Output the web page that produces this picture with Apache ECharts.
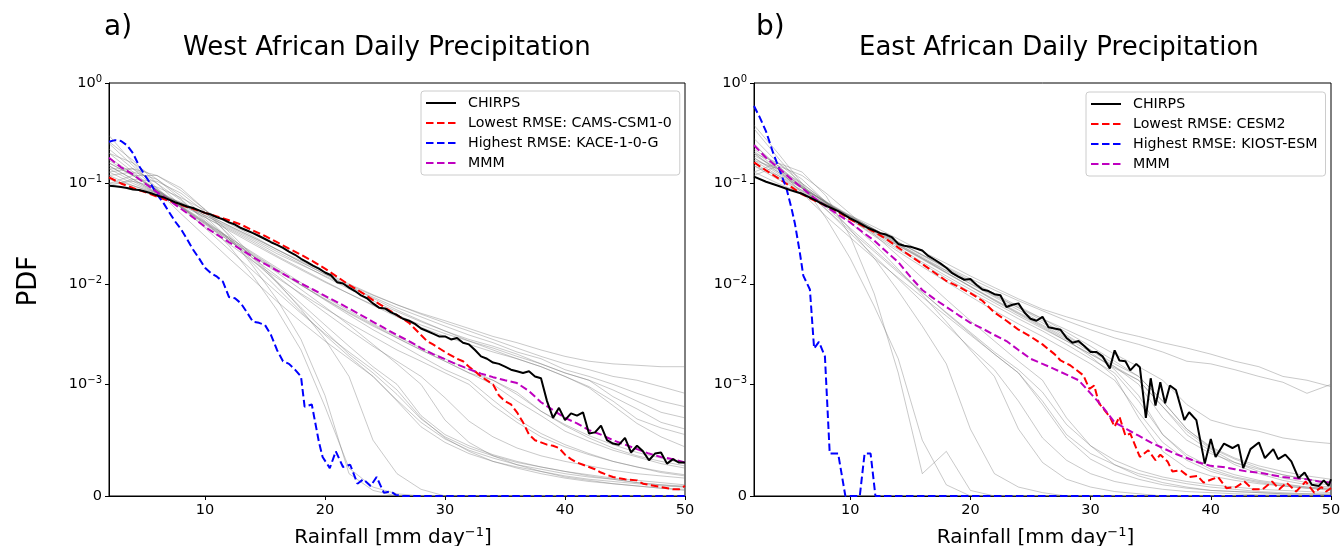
<!DOCTYPE html>
<html><head><meta charset="utf-8">
<script src="https://cdn.jsdelivr.net/npm/echarts@6/dist/echarts.min.js"></script>
<style>html,body{margin:0;padding:0;background:#fff}#c{width:1341px;height:546px}</style>
</head><body><div id="c"></div>
<script>
// ---------------- DATA ----------------
const xTicks = [10, 20, 30, 40, 50];
const yTickValues = [0, 1e-3, 1e-2, 1e-1, 1];
const yTickExponents = ['', '−3', '−2', '−1', '0'];
const panelTitles = ['West African Daily Precipitation', 'East African Daily Precipitation'];
const panelLetters = ['a)', 'b)'];
const westNames = ['CHIRPS', 'Lowest RMSE: CAMS-CSM1-0', 'Highest RMSE: KACE-1-0-G', 'MMM'];
const eastNames = ['CHIRPS', 'Lowest RMSE: CESM2', 'Highest RMSE: KIOST-ESM', 'MMM'];

// model grid (mm/day) for the gray ensemble members
const gx = [2,4,6,8,10,12,14,16,18,20,22,24,26,28,30,32,34,36,38,40,42,44,46,48,50];

const westChirps = [[2,0.095],[2.5,0.094],[3,0.092],[3.5,0.09],[4,0.087],[4.5,0.086],[5,0.083],[5.5,0.08],[6,0.076],[6.5,0.073],[7,0.069],[7.5,0.065],[8,0.062],[8.5,0.059],[9,0.057],[9.5,0.054],[10,0.051],[10.5,0.049],[11,0.046],[11.5,0.044],[12,0.041],[12.5,0.039],[13,0.036],[13.5,0.034],[14,0.032],[14.5,0.03],[15,0.028],[15.5,0.026],[16,0.0245],[16.5,0.0228],[17,0.021],[17.5,0.0195],[18,0.0178],[18.5,0.0165],[19,0.0152],[19.5,0.0142],[20,0.013],[20.5,0.0122],[21,0.0104],[21.5,0.0101],[22,0.0092],[22.5,0.0085],[23,0.0077],[23.5,0.0072],[24,0.0064],[24.5,0.0058],[25,0.0057],[25.5,0.0052],[26,0.0049],[26.5,0.0045],[27,0.0043],[27.5,0.004],[28,0.0036],[28.5,0.0034],[29,0.0032],[29.5,0.003],[30,0.003],[30.5,0.0028],[31,0.0029],[31.5,0.0026],[32,0.0025],[32.5,0.0022],[33,0.0019],[33.5,0.0018],[34,0.00165],[34.5,0.0016],[35,0.0015],[35.5,0.0014],[36,0.00135],[36.5,0.0013],[37,0.00135],[37.5,0.0012],[38,0.00115],[38.5,0.00085],[39,0.0007],[39.5,0.00079],[40,0.00068],[40.5,0.00074],[41,0.00072],[41.5,0.00075],[42,0.00056],[42.5,0.00057],[43,0.00063],[43.5,0.0005],[44,0.00047],[44.5,0.00046],[45,0.00052],[45.5,0.00039],[46,0.00045],[46.5,0.0004],[47,0.00032],[47.5,0.00038],[48,0.00039],[48.5,0.00029],[49,0.00033],[49.5,0.0003],[50,0.0003]];
const westLowest = [[2,0.115],[3,0.1],[4,0.09],[5,0.082],[6,0.074],[7,0.067],[8,0.061],[9,0.056],[10,0.051],[11,0.047],[12,0.043],[13,0.039],[14,0.034],[15,0.03],[16,0.026],[17,0.0225],[18,0.0195],[19,0.0168],[20,0.0142],[21,0.0118],[22,0.0098],[23,0.0083],[24,0.0069],[25,0.0058],[26,0.0049],[27,0.0041],[28,0.0031],[28.5,0.0027],[29,0.0025],[30,0.0021],[31,0.0018],[31.5,0.0017],[32,0.0015],[32.5,0.00135],[33,0.0012],[34,0.001],[34.5,0.0009],[35,0.00085],[35.5,0.00082],[36,0.00075],[36.5,0.00066],[37,0.00055],[37.5,0.0005],[38,0.00048],[38.5,0.00046],[39,0.00045],[39.5,0.00043],[40,0.00037],[40.5,0.00033],[41,0.0003],[41.5,0.00028],[42,0.00026],[42.5,0.00024],[43,0.00021],[43.5,0.00019],[44,0.00017],[45,0.00015],[46,0.00014],[46.5,0.00011],[47,0.0001],[48,0.00008],[49,0.00006],[49.5,0.00006],[50,0.00009]];
const westHighest = [[2,0.26],[2.5,0.27],[3,0.265],[3.5,0.24],[4,0.2],[4.5,0.15],[5,0.12],[5.5,0.098],[6,0.078],[6.5,0.065],[7,0.052],[7.5,0.042],[8,0.035],[8.5,0.028],[9,0.022],[9.5,0.018],[10,0.0145],[10.5,0.0128],[11,0.0118],[11.5,0.0105],[12,0.0074],[12.5,0.0072],[13,0.0064],[13.5,0.0052],[14,0.0042],[14.5,0.0041],[15,0.0039],[15.5,0.0031],[16,0.0022],[16.5,0.0017],[17,0.0016],[17.5,0.0014],[18,0.0012],[18.3,0.0008],[18.9,0.00082],[19.5,0.00048],[19.8,0.00035],[20.4,0.00025],[20.9,0.0004],[21.5,0.00026],[22.1,0.00028],[22.7,0.00011],[23.2,0.00015],[23.8,0.00009],[24.3,0.00017],[24.9,0.00003],[25.5,0.00004],[25.9,0.00001],[26.5,0],[50,0]];
const westMMM = [[2,0.18],[3,0.145],[4,0.123],[5,0.1],[6,0.082],[7,0.068],[8,0.056],[9,0.046],[10,0.037],[11,0.031],[12,0.026],[13,0.022],[14,0.0185],[15,0.0158],[16,0.0136],[17,0.0117],[18,0.0101],[19,0.0088],[20,0.0076],[21,0.0066],[22,0.0057],[23,0.0049],[24,0.0042],[25,0.0036],[26,0.0031],[27,0.0027],[28,0.0023],[29,0.002],[30,0.00178],[31,0.00158],[32,0.00142],[33,0.00128],[34,0.00118],[35,0.0011],[36,0.00103],[37,0.00094],[38,0.00084],[39,0.00077],[40,0.0007],[41,0.00065],[42,0.00059],[43,0.00055],[44,0.0005],[45,0.00046],[46,0.00042],[47,0.00038],[48,0.00035],[49,0.00033],[50,0.0003]];
const westModels = [
 [0.10,0.105,0.092,0.072,0.054,0.040,0.030,0.022,0.0165,0.0125,0.0097,0.0077,0.0062,0.0051,0.0043,0.0036,0.0030,0.0026,0.0022,0.0019,0.0017,0.0016,0.00155,0.0015,0.0015],
 [0.13,0.10,0.080,0.065,0.050,0.038,0.029,0.022,0.017,0.013,0.0100,0.0078,0.0062,0.0050,0.0041,0.0034,0.0028,0.0023,0.0019,0.0016,0.0014,0.0012,0.0011,0.00098,0.00092],
 [0.15,0.11,0.082,0.063,0.048,0.036,0.027,0.020,0.0155,0.012,0.0094,0.0074,0.0058,0.0047,0.0038,0.0031,0.0026,0.0021,0.0018,0.0014,0.0012,0.0010,0.00092,0.00085,0.0008],
 [0.12,0.095,0.078,0.062,0.048,0.037,0.028,0.021,0.0158,0.0118,0.0089,0.0068,0.0053,0.0042,0.0034,0.0028,0.0024,0.0020,0.0016,0.0013,0.0011,0.00095,0.00085,0.00075,0.0007],
 [0.17,0.12,0.086,0.063,0.046,0.034,0.025,0.0185,0.0138,0.0104,0.0080,0.0062,0.0049,0.0039,0.0032,0.0027,0.0023,0.0019,0.0016,0.0013,0.0011,0.00089,0.00078,0.00066,0.0006],
 [0.14,0.105,0.080,0.061,0.046,0.035,0.026,0.019,0.0142,0.0106,0.0080,0.0061,0.0047,0.0037,0.0030,0.0025,0.0021,0.0018,0.0015,0.0012,0.00098,0.00085,0.00069,0.00061,0.00055],
 [0.11,0.095,0.080,0.064,0.050,0.038,0.029,0.022,0.0165,0.0125,0.0095,0.0072,0.0055,0.0043,0.0034,0.0027,0.0022,0.0018,0.0015,0.0012,0.00097,0.00081,0.00065,0.00053,0.00044],
 [0.20,0.13,0.085,0.058,0.040,0.028,0.0195,0.0138,0.0098,0.0071,0.0052,0.0039,0.0029,0.0022,0.0017,0.0013,0.0010,0.00085,0.00072,0.00058,0.00049,0.00041,0.00035,0.00029,0.00025],
 [0.18,0.125,0.085,0.059,0.041,0.029,0.0205,0.0145,0.0103,0.0074,0.0054,0.0040,0.0030,0.0023,0.0018,0.0014,0.0011,0.00093,0.00076,0.00063,0.00052,0.00043,0.00036,0.00031,0.00027],
 [0.25,0.15,0.090,0.057,0.037,0.025,0.0168,0.0115,0.0080,0.0057,0.0041,0.0030,0.0022,0.0017,0.0013,0.0010,0.00081,0.00066,0.00053,0.00044,0.00037,0.00031,0.00026,0.00022,0.00019],
 [0.16,0.12,0.086,0.060,0.042,0.029,0.020,0.014,0.0098,0.0069,0.0049,0.0035,0.0026,0.0019,0.0014,0.0011,0.00086,0.00069,0.00056,0.00046,0.00038,0.00031,0.00026,0.00021,0.00018],
 [0.22,0.14,0.088,0.058,0.039,0.027,0.019,0.0135,0.0097,0.0070,0.0051,0.0038,0.0029,0.0022,0.0017,0.0013,0.0011,0.00091,0.00076,0.00064,0.00054,0.00046,0.00039,0.00034,0.00029],
 [0.15,0.11,0.080,0.058,0.040,0.027,0.018,0.012,0.0078,0.0052,0.0035,0.0024,0.0017,0.0012,0.00088,0.00067,0.00053,0.00043,0.00036,0.00031,0.00027,0.00023,0.00020,0.00018,0.00016],
 [0.12,0.13,0.11,0.075,0.047,0.028,0.016,0.0092,0.0053,0.0031,0.0019,0.0012,0.00086,0.00066,0.00051,0.00041,0.00034,0.00028,0.00024,0.00020,0.00017,0.00015,0.00012,0.00010,0.00009],
 [0.095,0.11,0.105,0.080,0.052,0.031,0.018,0.0102,0.0058,0.0034,0.0020,0.0013,0.00091,0.00069,0.00053,0.00043,0.00036,0.00030,0.00026,0.00022,0.00019,0.00016,0.00014,0.00012,0.00010],
 [0.30,0.16,0.085,0.050,0.030,0.018,0.011,0.0067,0.0042,0.0027,0.0018,0.0012,0.00085,0.00062,0.00048,0.00038,0.00031,0.00026,0.00022,0.00018,0.00015,0.00013,0.00011,0.00009,0.00008],
 [0.14,0.14,0.10,0.068,0.044,0.028,0.017,0.0105,0.0064,0.0039,0.0024,0.0015,0.0010,0.00072,0.00055,0.00045,0.00037,0.00031,0.00026,0.00022,0.00018,0.00015,0.00012,0.00010,0.00008],
 [0.26,0.17,0.10,0.060,0.036,0.022,0.0135,0.0083,0.0051,0.0032,0.0021,0.0014,0.00095,0.00070,0.00052,0.00040,0.00031,0.00025,0.00020,0.00016,0.00013,0.00011,0.00009,0.00007,0.00006],
 [0.10,0.12,0.12,0.090,0.055,0.030,0.015,0.0070,0.0028,0.0009,0.0002,0.00005,0,0,0,0,0,0,0,0,0,0,0,0,0],
 [0.20,0.16,0.11,0.070,0.042,0.024,0.012,0.0055,0.0022,0.0008,0.00025,0.00008,0.00002,0,0,0,0,0,0,0,0,0,0,0,0],
 [0.13,0.14,0.12,0.085,0.055,0.033,0.019,0.0105,0.0056,0.0028,0.0012,0.0005,0.0002,0.00006,0,0,0,0,0,0,0,0,0,0,0],
 [0.16,0.12,0.085,0.059,0.041,0.028,0.019,0.013,0.0088,0.0059,0.0039,0.0025,0.0016,0.0010,0.00068,0.00048,0.00036,0.00028,0.00022,0.00017,0.00014,0.00011,0.00009,0.00007,0.00005]
];

const eastChirps = [[2,0.117],[3,0.104],[4,0.095],[5,0.086],[6,0.079],[7,0.069],[8,0.06],[9,0.053],[10,0.045],[10.5,0.042],[11,0.039],[11.5,0.036],[12,0.034],[12.5,0.032],[13,0.031],[13.5,0.029],[14,0.025],[14.5,0.024],[15,0.0235],[15.5,0.0225],[16,0.0215],[16.5,0.019],[17,0.0175],[17.5,0.016],[18,0.0145],[18.5,0.0128],[19,0.0118],[19.5,0.011],[20,0.0112],[20.5,0.0098],[21,0.0088],[21.5,0.0085],[22,0.0079],[22.5,0.0077],[23,0.0059],[23.5,0.0062],[24,0.0064],[24.5,0.0052],[25,0.0045],[25.5,0.0043],[26,0.0047],[26.5,0.0037],[27,0.0036],[27.5,0.0035],[28,0.0029],[28.5,0.0026],[29,0.0027],[29.5,0.0024],[30,0.0021],[30.5,0.0021],[31,0.0019],[31.6,0.00144],[32,0.00218],[32.4,0.00173],[32.9,0.0017],[33.3,0.00138],[33.8,0.0016],[34.1,0.00148],[34.6,0.0007],[35,0.00115],[35.4,0.00081],[35.8,0.00105],[36.2,0.00083],[36.6,0.00099],[37.1,0.00095],[37.8,0.00068],[38.2,0.00075],[38.8,0.00068],[39.5,0.00029],[40,0.00051],[40.4,0.00035],[41.1,0.00047],[41.8,0.00043],[42.3,0.00046],[42.7,0.00025],[43.3,0.00042],[44,0.00048],[44.5,0.00034],[45.2,0.00042],[45.6,0.00033],[46.2,0.00037],[46.7,0.00031],[47.3,0.00016],[47.8,0.00021],[48.4,0.0001],[49,0.00009],[49.4,0.00014],[49.8,0.00009],[50,0.00015]];
const eastLowest = [[2,0.162],[3,0.135],[4,0.113],[5,0.094],[6,0.078],[7,0.068],[8,0.06],[9,0.052],[10,0.044],[11,0.038],[12,0.033],[13,0.028],[14,0.023],[15,0.019],[16,0.0158],[17,0.013],[18,0.0107],[19,0.0094],[20,0.0081],[21,0.0068],[22,0.0052],[23,0.0043],[24,0.0035],[25,0.003],[26,0.0025],[27,0.002],[27.5,0.00173],[28.3,0.00155],[29.4,0.00123],[29.9,0.00096],[30.3,0.00099],[30.7,0.00083],[31.6,0.00071],[32,0.00062],[32.4,0.00071],[32.9,0.00054],[33.3,0.00056],[34.1,0.00035],[34.8,0.00041],[35.4,0.00032],[35.8,0.00037],[36.4,0.00031],[36.8,0.00022],[37.5,0.00023],[38.2,0.00017],[38.9,0.00018],[39.4,0.00012],[40.1,0.00015],[40.6,0.00017],[41.3,0.00007],[42.1,0.00008],[42.8,0.00013],[43.5,0.00006],[44.3,0.00006],[45.1,0.00013],[45.7,0.00006],[46.3,0.00012],[47.1,0.00004],[47.9,0.00013],[48.6,0.00003],[49.2,0.00008],[49.6,0.00004],[50,0.00007]];
const eastHighest = [[2,0.59],[2.5,0.45],[3,0.33],[3.6,0.2],[4,0.15],[4.7,0.089],[5.1,0.058],[5.4,0.04],[5.8,0.021],[6.1,0.0121],[6.65,0.0088],[7,0.00228],[7.4,0.00265],[7.9,0.0019],[8.3,0.00038],[9,0.00038],[9.6,0],[10.8,0],[11.2,0.00038],[11.7,0.00038],[12.1,0],[50,0]];
const eastMMM = [[2,0.24],[3,0.18],[4,0.144],[5,0.113],[6,0.09],[7,0.072],[8,0.059],[9,0.049],[10,0.041],[11,0.033],[12,0.027],[13,0.021],[14,0.0165],[15,0.0118],[16,0.0087],[17,0.0071],[18,0.0059],[19,0.0049],[20,0.0041],[21,0.0036],[22,0.0031],[23,0.0027],[24,0.0022],[25,0.0018],[26,0.0016],[27,0.00142],[28,0.00125],[29,0.0011],[30,0.00092],[31,0.0008],[32,0.00066],[33,0.0006],[34,0.00054],[35,0.00048],[36,0.00043],[37,0.00038],[38,0.00034],[39,0.0003],[40,0.00027],[41,0.00026],[42,0.00024],[43,0.00022],[44,0.00021],[45,0.00019],[46,0.00017],[47,0.00016],[48,0.00015],[49,0.00013],[50,0.00012]];
const eastModels = [
 [0.13,0.10,0.080,0.062,0.048,0.037,0.028,0.021,0.016,0.012,0.0092,0.0071,0.0056,0.0047,0.0040,0.0034,0.0030,0.0026,0.0023,0.0020,0.0017,0.0015,0.0012,0.0011,0.00098],
 [0.15,0.11,0.083,0.062,0.046,0.035,0.026,0.0195,0.0148,0.0113,0.0087,0.0068,0.0054,0.0043,0.0035,0.0029,0.0025,0.0021,0.0017,0.0016,0.0014,0.0012,0.00105,0.00092,0.00100],
 [0.17,0.12,0.085,0.062,0.045,0.033,0.024,0.018,0.0135,0.0101,0.0076,0.0058,0.0045,0.0035,0.0027,0.0020,0.0015,0.0011,0.00082,0.00068,0.00062,0.00058,0.00052,0.00049,0.00047],
 [0.20,0.13,0.090,0.064,0.046,0.033,0.024,0.0175,0.0128,0.0094,0.0069,0.0051,0.0038,0.0028,0.0019,0.0012,0.00070,0.00040,0.00025,0.00018,0.00014,0.00011,0.00009,0.00007,0.00006],
 [0.18,0.125,0.090,0.065,0.047,0.034,0.0245,0.0178,0.0130,0.0095,0.0070,0.0052,0.0039,0.0029,0.0021,0.0014,0.0009,0.00055,0.00035,0.00024,0.00017,0.00013,0.00010,0.00008,0.00006],
 [0.24,0.15,0.095,0.064,0.044,0.031,0.022,0.0158,0.0114,0.0083,0.0061,0.0045,0.0034,0.0025,0.0018,0.0013,0.00085,0.00055,0.00037,0.00026,0.00019,0.00014,0.00011,0.00008,0.00007],
 [0.15,0.12,0.090,0.066,0.048,0.035,0.025,0.018,0.013,0.0094,0.0068,0.0050,0.0037,0.0027,0.0020,0.0015,0.0011,0.00080,0.00058,0.00042,0.00030,0.00022,0.00016,0.00012,0.00010],
 [0.28,0.16,0.10,0.065,0.044,0.030,0.021,0.0148,0.0105,0.0075,0.0054,0.0040,0.0030,0.0022,0.0016,0.0011,0.00075,0.00048,0.00032,0.00022,0.00016,0.00012,0.00009,0.00007,0.00005],
 [0.21,0.14,0.094,0.064,0.045,0.032,0.023,0.0165,0.012,0.0088,0.0065,0.0048,0.0036,0.0027,0.0020,0.00145,0.0011,0.0008,0.00055,0.0004,0.00028,0.0002,0.00014,0.0001,0.00008],
 [0.16,0.115,0.085,0.063,0.046,0.034,0.025,0.0185,0.0136,0.010,0.0074,0.0055,0.0041,0.0030,0.0022,0.0016,0.0012,0.00085,0.0006,0.00043,0.00033,0.00025,0.00019,0.00015,0.00012],
 [0.20,0.135,0.092,0.065,0.047,0.035,0.026,0.0195,0.0145,0.0108,0.0080,0.0060,0.0045,0.0033,0.0024,0.0017,0.0012,0.00085,0.0006,0.00044,0.00034,0.00027,0.00022,0.00018,0.00015],
 [0.18,0.13,0.090,0.064,0.047,0.035,0.026,0.0192,0.0142,0.0105,0.0078,0.0058,0.0043,0.0031,0.0022,0.0015,0.0010,0.0007,0.0005,0.00038,0.0003,0.00024,0.00019,0.00015,0.00012],
 [0.22,0.15,0.090,0.055,0.034,0.021,0.013,0.0082,0.0052,0.0033,0.0021,0.0014,0.00093,0.00064,0.00045,0.00032,0.00023,0.00017,0.00013,0.0001,0.00008,0.00006,0.00005,0.00004,0.00003],
 [0.12,0.15,0.12,0.080,0.050,0.031,0.019,0.0115,0.0070,0.0043,0.0027,0.0017,0.0011,0.0007,0.00045,0.00028,0.00018,0.00012,0.00008,0.00005,0.00004,0.00003,0.00002,0.00001,0.00001],
 [0.25,0.14,0.080,0.047,0.029,0.018,0.0115,0.0074,0.0048,0.0031,0.0020,0.0013,0.00085,0.00055,0.00038,0.00028,0.0002,0.00015,0.00011,0.00008,0.00006,0.00004,0.00003,0.00002,0.00002],
 [0.19,0.14,0.092,0.058,0.036,0.022,0.0135,0.0083,0.0051,0.0032,0.0020,0.0013,0.00082,0.00052,0.00033,0.00022,0.00015,0.0001,0.00007,0.00005,0.00004,0.00003,0.00002,0.00002,0.00001],
 [0.35,0.18,0.095,0.055,0.032,0.019,0.0112,0.0066,0.0039,0.0023,0.0014,0.00085,0.00052,0.00032,0.0002,0.00013,0.00009,0.00006,0.00004,0.00003,0.00002,0.00001,0.00001,0,0],
 [0.13,0.16,0.13,0.075,0.030,0.008,0.0013,0.0002,0.0004,0.00005,0,0,0,0,0,0,0,0,0,0,0,0,0,0,0],
 [0.38,0.20,0.10,0.045,0.018,0.006,0.0018,0.0005,0.0001,0,0,0,0,0,0,0,0,0,0,0,0,0,0,0,0],
 [0.20,0.16,0.11,0.065,0.035,0.018,0.0085,0.0038,0.0016,0.0006,0.0002,0.00008,0.00003,0,0,0,0,0,0,0,0,0,0,0,0],
 [0.17,0.14,0.10,0.066,0.041,0.025,0.014,0.0078,0.0042,0.0022,0.0012,0.0006,0.0003,0.00015,0.00008,0.00004,0.00002,0,0,0,0,0,0,0,0]
];

// ---------------- SYMLOG SCALE (matplotlib symlog, linthresh 1e-3) ----------------
const LINTHRESH = 1e-3, LINSCALE = 1 / (1 - 1 / 10);
function symlog(v) { return v <= LINTHRESH ? (v / LINTHRESH) * LINSCALE : LINSCALE + Math.log10(v / LINTHRESH); }
const yAxisMax = symlog(1);
const yTickPos = yTickValues.map(symlog);

const FONT = 'DejaVu Sans';
const grids = [
  { left: 109, top: 83, width: 576, height: 413 },
  { left: 754, top: 83, width: 577, height: 413 }
];
const xNameShift = [8, 14];

function yLabel(val) {
  let best = 0;
  yTickPos.forEach((p, i) => { if (Math.abs(p - val) < Math.abs(yTickPos[best] - val)) best = i; });
  return yTickExponents[best] === '' ? '{b|0}' : '{b|10}{s|' + yTickExponents[best] + '}';
}

function makeAxes(i) {
  return {
    x: {
      type: 'value', gridIndex: i, min: 2, max: 50,
      name: 'Rainfall [mm day{s|−1}]', nameLocation: 'middle', nameGap: 30,
      nameTextStyle: { fontFamily: FONT, fontSize: 20, color: '#000', padding: [0, xNameShift[i], 0, 0],
        rich: { s: { fontFamily: FONT, fontSize: 13, verticalAlign: 'top', padding: [0, 0, 10, 0], color: '#000' } } },
      axisLine: { show: true, lineStyle: { color: '#000', width: 1 } },
      axisTick: { show: true, length: 4, inside: false, customValues: xTicks, lineStyle: { color: '#000' } },
      axisLabel: { customValues: xTicks, fontFamily: FONT, fontSize: 14.5, color: '#000', margin: 7 },
      splitLine: { show: false }
    },
    y: {
      type: 'value', gridIndex: i, min: 0, max: yAxisMax,
      name: i === 0 ? 'PDF' : '', nameLocation: 'middle', nameGap: 67,
      nameTextStyle: { fontFamily: FONT, fontSize: 26, color: '#000', padding: [0, 0, 0, 17] },
      axisLine: { show: true, lineStyle: { color: '#000', width: 1 } },
      axisTick: { show: true, length: 4, customValues: yTickPos, lineStyle: { color: '#000' } },
      axisLabel: {
        customValues: yTickPos, formatter: yLabel, margin: 7,
        rich: {
          b: { fontFamily: FONT, fontSize: 14.5, color: '#000', lineHeight: 18 },
          s: { fontFamily: FONT, fontSize: 10, color: '#000', verticalAlign: 'top', lineHeight: 18, padding: [0, 0, 8, 0] }
        }
      },
      splitLine: { show: false }
    }
  };
}

function grayLines(models, i) {
  return models.map(vals => ({
    type: 'line', name: 'member', xAxisIndex: i, yAxisIndex: i, symbol: 'none', silent: true,
    data: vals.map((v, k) => [gx[k], symlog(v)]),
    lineStyle: { color: 'rgba(120,120,120,0.5)', width: 0.8 }, z: 1
  }));
}
function mainLine(name, pts, i, color, dashed, width) {
  return {
    type: 'line', name, xAxisIndex: i, yAxisIndex: i, symbol: 'none', showSymbol: false,
    data: pts.map(p => [p[0], symlog(p[1])]),
    lineStyle: { color, width, type: dashed ? [7.5, 3.5] : 'solid' },
    itemStyle: { color }, z: 3
  };
}

const axes = [makeAxes(0), makeAxes(1)];
const series = [
  ...grayLines(westModels, 0),
  mainLine(westNames[1], westLowest, 0, '#ff0000', true, 2),
  mainLine(westNames[2], westHighest, 0, '#0000ff', true, 2),
  mainLine(westNames[3], westMMM, 0, '#bf00bf', true, 2),
  mainLine(westNames[0], westChirps, 0, '#000000', false, 2),
  ...grayLines(eastModels, 1),
  mainLine(eastNames[1], eastLowest, 1, '#ff0000', true, 2),
  mainLine(eastNames[2], eastHighest, 1, '#0000ff', true, 2),
  mainLine(eastNames[3], eastMMM, 1, '#bf00bf', true, 2),
  mainLine(eastNames[0], eastChirps, 1, '#000000', false, 2)
];

function legendFor(names, left, top) {
  return {
    data: names, orient: 'vertical', left, top,
    itemWidth: 30, itemHeight: 14, itemGap: 6,
    padding: [5, 8, 5, 4],
    backgroundColor: 'rgba(255,255,255,0.85)', borderColor: '#cccccc', borderWidth: 1, borderRadius: 3,
    selectedMode: false,
    itemStyle: { opacity: 0 },
    textStyle: { fontFamily: FONT, fontSize: 14.2, color: '#000', padding: [0, 0, 0, 7] }
  };
}

const option = {
  animation: false,
  backgroundColor: '#fff',
  title: [
    { text: panelLetters[0], left: 99, top: 9, textStyle: { fontFamily: FONT, fontSize: 28, fontWeight: 'normal', color: '#000' } },
    { text: panelTitles[0], left: 178, top: 30, textStyle: { fontFamily: FONT, fontSize: 26, fontWeight: 'normal', color: '#000' } },
    { text: panelLetters[1], left: 751, top: 9, textStyle: { fontFamily: FONT, fontSize: 28, fontWeight: 'normal', color: '#000' } },
    { text: panelTitles[1], left: 854, top: 30, textStyle: { fontFamily: FONT, fontSize: 26, fontWeight: 'normal', color: '#000' } }
  ],
  legend: [legendFor(westNames, 421, 91), legendFor(eastNames, 1086, 92)],
  grid: grids.map(g => Object.assign({ show: true, borderColor: '#000', borderWidth: 1, backgroundColor: 'transparent', containLabel: false, outerBoundsMode: 'none' }, g)),
  xAxis: axes.map(a => a.x),
  yAxis: axes.map(a => a.y),
  series
};

const chart = echarts.init(document.getElementById('c'), null, { renderer: 'canvas' });
chart.setOption(option);
</script>
</body></html>
